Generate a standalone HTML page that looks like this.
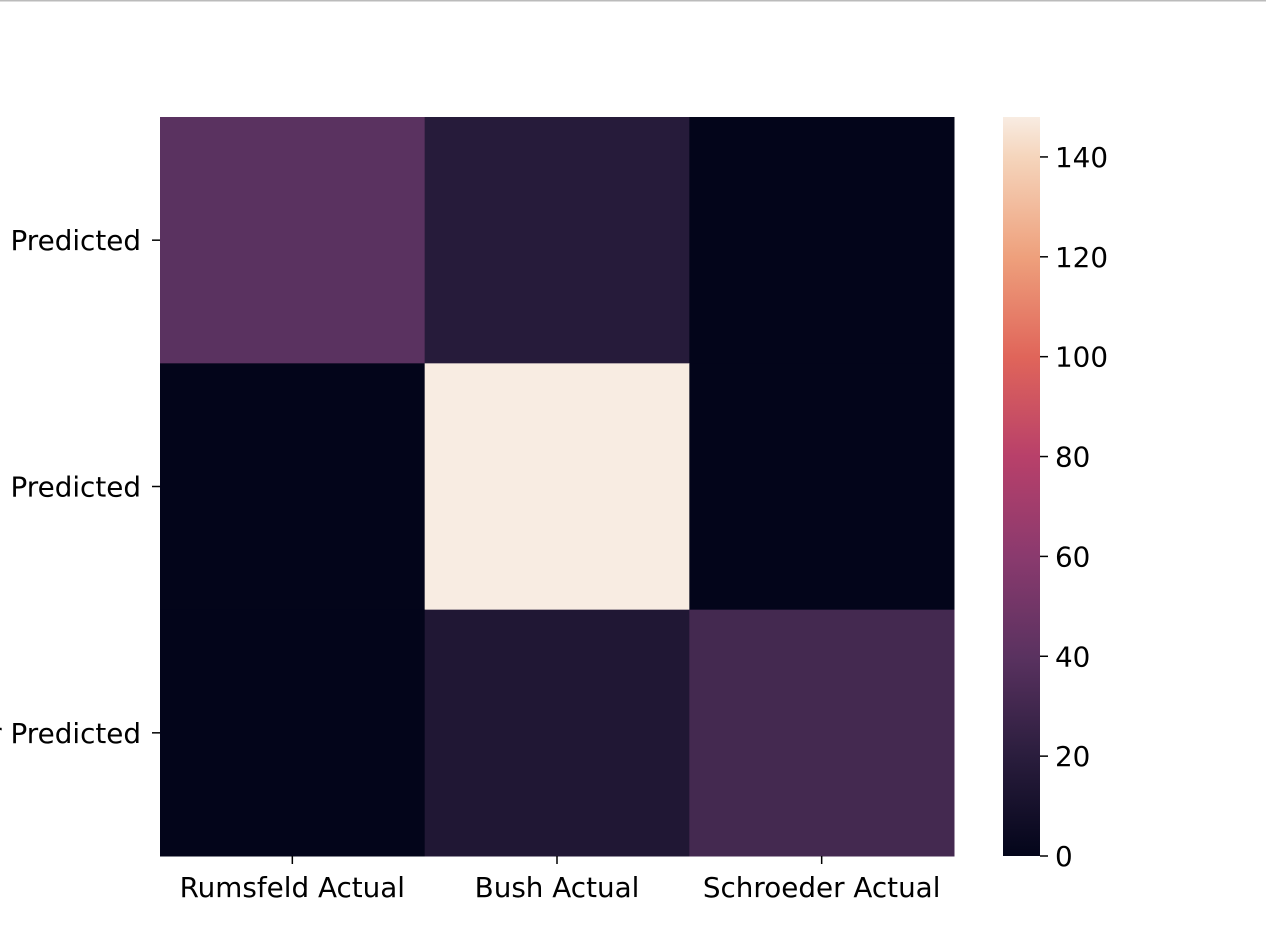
<!DOCTYPE html>
<html><head><meta charset="utf-8"><style>
html,body{margin:0;padding:0;background:#fff;overflow:hidden}
svg{display:block;font-family:"DejaVu Sans","Liberation Sans",sans-serif}
</style></head><body>
<svg id="chart" width="1266" height="950">
<line x1="0" y1="0.5" x2="1266" y2="0.5" stroke="#bbb" stroke-width="2"/>
<defs>
<linearGradient id="rocket" x1="0" y1="1" x2="0" y2="0"></linearGradient>
</defs>
<g id="cells"></g><g id="xaxis"></g><g id="yaxis"></g><g id="cbar"></g>
</svg>
<script>
const xLabels=["Rumsfeld Actual","Bush Actual","Schroeder Actual"];
const yLabels=["Predicted","Predicted","Schroeder Predicted"];
const row0=[40,18,0];
const row1=[0,148,0];
const row2=[0,15,31];
const values=[row0,row1,row2];
const cbTicks=[0,20,40,60,80,100,120,140];
const vmin=0,vmax=148;

const stops=[[0,"#03051a"],[0.135,"#2a1d3d"],[0.27,"#5a3260"],[0.405,"#8a3a6e"],[0.54,"#b8406a"],[0.675,"#e0655a"],[0.81,"#eea07c"],[0.946,"#f5d5bc"],[1,"#f8ece2"]];
function hex(h){return [1,3,5].map(i=>parseInt(h.substr(i,2),16));}
function cmap(t){t=Math.max(0,Math.min(1,t));for(let i=1;i<stops.length;i++){if(t<=stops[i][0]){const a=stops[i-1],b=stops[i];const f=(t-a[0])/(b[0]-a[0]);const ca=hex(a[1]),cb=hex(b[1]);return "rgb("+ca.map((c,k)=>Math.round(c+(cb[k]-c)*f)).join(",")+")";}}return stops[stops.length-1][1];}
const NS="http://www.w3.org/2000/svg";
function mk(tag,attrs,parent){const e=document.createElementNS(NS,tag);for(const k in attrs)e.setAttribute(k,attrs[k]);parent.appendChild(e);return e;}
const X0=160,X1=954,Y0=117,Y1=856;
const cw=(X1-X0)/xLabels.length,ch=(Y1-Y0)/yLabels.length;
const xs=i=>X0+i*cw, ys=j=>Y0+j*ch;
const grad=document.getElementById('rocket');
stops.forEach(s=>mk('stop',{offset:s[0],'stop-color':s[1]},grad));
const cells=document.getElementById('cells');
values.forEach((row,j)=>row.forEach((v,i)=>{
 const r=mk('rect',{x:xs(i),y:ys(j),width:cw+0.5,height:ch+0.5,fill:cmap((v-vmin)/(vmax-vmin))},cells);
 
 
}));
const FS=27.8;
const xa=document.getElementById('xaxis');
xLabels.forEach((l,i)=>{
 const cx=xs(i)+cw/2;
 const t=mk('line',{x1:cx,x2:cx,y1:Y1,y2:Y1+8,stroke:'#000','stroke-width':1.5},xa);
 
 const tx=mk('text',{x:cx,y:Y1+41,'text-anchor':'middle','font-size':FS},xa);tx.textContent=l;
 
});
const ya=document.getElementById('yaxis');
yLabels.forEach((l,j)=>{
 const cy=ys(j)+ch/2;
 const t=mk('line',{x1:X0-8,x2:X0,y1:cy,y2:cy,stroke:'#000','stroke-width':1.5},ya);
 
 const tx=mk('text',{x:X0-19,y:cy+10,'text-anchor':'end','font-size':FS},ya);tx.textContent=l;
 
});
const cb=document.getElementById('cbar');
const CX0=1003,CX1=1040;
const cy=v=>Y1-(v-vmin)/(vmax-vmin)*(Y1-Y0);
const bar=mk('rect',{x:CX0,y:Y0,width:CX1-CX0,height:Y1-Y0,fill:'url(#rocket)'},cb);

cbTicks.forEach(v=>{
 const y=cy(v);
 const t=mk('line',{x1:CX1,x2:CX1+8,y1:y,y2:y,stroke:'#000','stroke-width':1.5},cb);
 
 const tx=mk('text',{x:CX1+15,y:y+10,'font-size':FS},cb);tx.textContent=v;
 
});
</script>
</body></html>
